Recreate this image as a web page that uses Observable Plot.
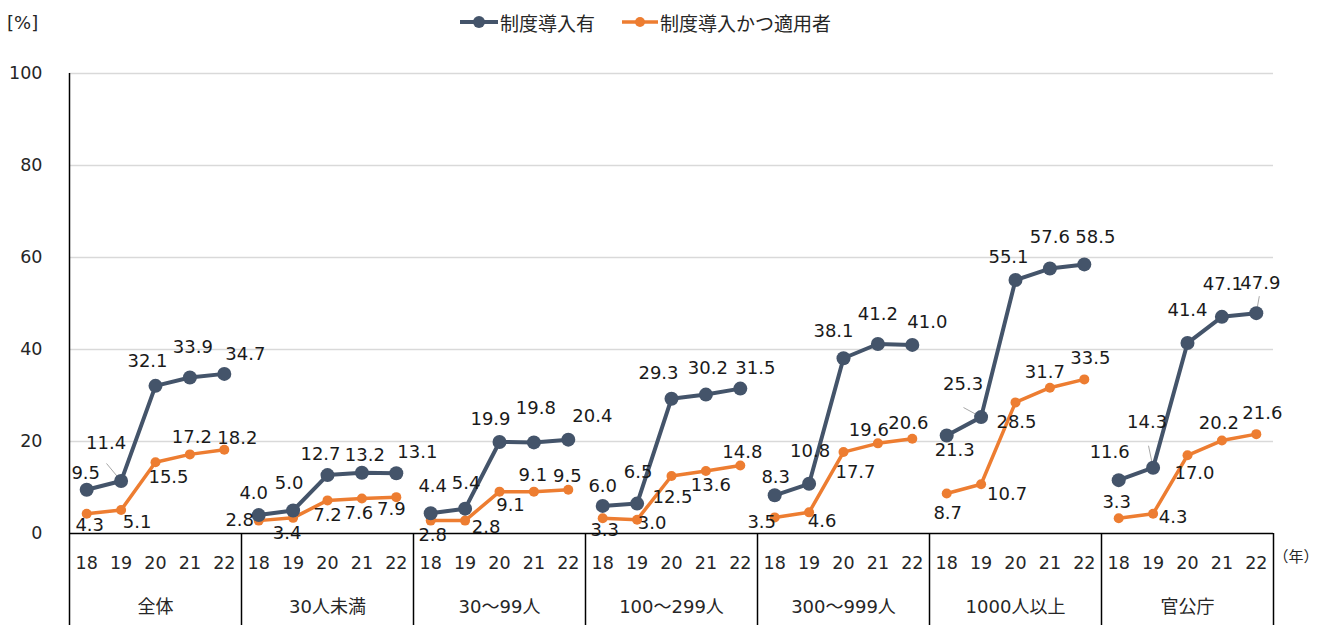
<!DOCTYPE html>
<html><head><meta charset="utf-8">
<script src="https://cdn.jsdelivr.net/npm/d3@7"></script>
<script src="https://cdn.jsdelivr.net/npm/@observablehq/plot@0.6"></script>
<style>
body{margin:0;background:#fff;}
#header{position:relative;width:1327px;height:45px;font-family:"DejaVu Sans","Noto Sans CJK JP",sans-serif;color:#262626;}
#unit{position:absolute;left:7px;top:12px;font-size:18px;line-height:22px;}
.leg{position:absolute;top:11px;height:22px;display:flex;align-items:center;gap:2px;font-size:19px;font-family:"Noto Sans CJK JP",sans-serif;}
.leg svg{display:block}
</style></head><body>
<div id="header">
  <div id="unit">[%]</div>
  <div class="leg" style="left:460px"><svg width="38" height="14"><line x1="0" y1="7" x2="38" y2="7" stroke="#44546A" stroke-width="4"/><circle cx="19" cy="7" r="6" fill="#44546A"/></svg><span>制度導入有</span></div>
  <div class="leg" style="left:622px"><svg width="36" height="14"><line x1="0" y1="7" x2="36" y2="7" stroke="#ED7D31" stroke-width="3.5"/><circle cx="18" cy="7" r="5" fill="#ED7D31"/></svg><span>制度導入かつ適用者</span></div>
</div>
<div id="chart"></div>
<script>
// ---- data ----
const groups = ["全体", "30人未満", "30～99人", "100～299人", "300～999人", "1000人以上", "官公庁"];
const years = ["18", "19", "20", "21", "22"];
const introduced = [
  [9.5, 11.4, 32.1, 33.9, 34.7],
  [4.0, 5.0, 12.7, 13.2, 13.1],
  [4.4, 5.4, 19.9, 19.8, 20.4],
  [6.0, 6.5, 29.3, 30.2, 31.5],
  [8.3, 10.8, 38.1, 41.2, 41.0],
  [21.3, 25.3, 55.1, 57.6, 58.5],
  [11.6, 14.3, 41.4, 47.1, 47.9]
];
const applied = [
  [4.3, 5.1, 15.5, 17.2, 18.2],
  [2.8, 3.4, 7.2, 7.6, 7.9],
  [2.8, 2.8, 9.1, 9.1, 9.5],
  [3.3, 3.0, 12.5, 13.6, 14.8],
  [3.5, 4.6, 17.7, 19.6, 20.6],
  [8.7, 10.7, 28.5, 31.7, 33.5],
  [3.3, 4.3, 17.0, 20.2, 21.6]
];
const yTicks = [0, 20, 40, 60, 80, 100];

// ---- layout (label placement offsets in px, leader lines) ----
const offIntroduced = [
  [[-1,-17],[-15,-38],[-8,-25],[3,-30],[21,-20]],
  [[-5,-22],[-4,-27],[-7,-21],[3,-18],[21,-21]],
  [[2,-27],[1,-25],[-9,-23],[2,-34],[24,-23]],
  [[0,-20],[1,-31],[-13,-25],[2,-26],[15,-20]],
  [[1,-18],[1,-33],[-10,-27],[0,-30],[15,-23]],
  [[8,15],[-18,-33],[-7,-23],[0,-31],[11,-27]],
  [[-9,-28],[-6,-45],[0,-33],[1,-33],[4,-30]]
];
const offApplied = [
  [[3,12],[16,12],[13,15],[2,-17],[13,-12]],
  [[-19,0],[-6,15],[0,15],[-3,15],[-5,12]],
  [[2,15],[21,7],[11,14],[-1,-16],[-1,-14]],
  [[2,12],[15,4],[1,21],[5,14],[2,-13]],
  [[-13,5],[13,9],[12,20],[-9,-13],[-4,-16]],
  [[1,20],[26,10],[1,20],[-5,-15],[6,-21]],
  [[-2,-16],[20,4],[7,18],[-3,-17],[6,-21]]
];
const leaders = [ // [group, yearIndex, px offset x, px offset y]
  [0, 1, -14.6, -17.6],
  [5, 1, -17.6, -9.6],
  [6, 1, -4.6, -22],
  [6, 4, 3, -17]
];

const W = 1327, H = 580, mL = 69, mR = 54, mT = 28, mB = 92;
const pxX = (W - mL - mR) / 35, pxY = (H - mT - mB) / 100;
const cA = "#44546A", cB = "#ED7D31";

const rowsA = [], rowsB = [];
groups.forEach((g, gi) => years.forEach((yr, yi) => {
  const idx = gi * 5 + yi;
  rowsA.push({g: gi, idx, v: introduced[gi][yi], o: offIntroduced[gi][yi]});
  rowsB.push({g: gi, idx, v: applied[gi][yi], o: offApplied[gi][yi]});
}));
const leaderRows = leaders.map(([gi, yi, ox, oy]) => ({
  x1: gi * 5 + yi, y1: introduced[gi][yi], x2: gi * 5 + yi + ox / pxX, y2: introduced[gi][yi] - oy / pxY
}));
const labelRows = rowsA.concat(rowsB);
const yBottom = -mB / pxY;

const chart = Plot.plot({
  width: W, height: H,
  marginLeft: mL, marginRight: mR, marginTop: mT, marginBottom: mB,
  style: {fontFamily: "'DejaVu Sans','Noto Sans CJK JP',sans-serif", color: "#262626", background: "#fff", overflow: "visible"},
  x: {type: "linear", domain: [-0.5, 34.5]},
  y: {domain: [0, 100]},
  marks: [
    Plot.ruleY(yTicks.filter(t => t > 0), {stroke: "#d9d9d9", strokeWidth: 1.5}),
    Plot.ruleY([0], {stroke: "#000", strokeWidth: 1.5}),
    Plot.ruleX([-0.5], {y1: () => 100, y2: () => yBottom, stroke: "#000", strokeWidth: 1.5}),
    Plot.ruleX(d3.range(1, 8).map(g => g * 5 - 0.5), {y1: () => 0, y2: () => yBottom, stroke: "#000", strokeWidth: 1.5}),
    Plot.axisY(yTicks, {tickSize: 0, tickPadding: 27, fontSize: 17.5, label: null}),
    Plot.axisX(d3.range(35), {tickSize: 0, tickPadding: 23, fontSize: 17.5, tickFormat: i => years[i % 5], label: null}),
    Plot.text(groups, {x: (d, i) => i * 5 + 2, text: d => d, frameAnchor: "bottom", dy: 79, fontSize: 18}),
    Plot.text(["（年）"], {text: d => d, frameAnchor: "bottom-right", dx: 0, dy: 28, textAnchor: "start", fontSize: 15}),
    Plot.link(leaderRows, {x1: "x1", y1: "y1", x2: "x2", y2: "y2", stroke: "#a6a6a6", strokeWidth: 1}),
    Plot.line(rowsB, {x: "idx", y: "v", z: "g", stroke: cB, strokeWidth: 3.5}),
    Plot.dot(rowsB, {x: "idx", y: "v", r: 5, fill: cB}),
    Plot.line(rowsA, {x: "idx", y: "v", z: "g", stroke: cA, strokeWidth: 4}),
    Plot.dot(rowsA, {x: "idx", y: "v", r: 7, fill: cA}),
    Plot.text(labelRows, {
      x: d => d.idx + d.o[0] / pxX,
      y: d => d.v - d.o[1] / pxY,
      text: d => d.v.toFixed(1),
      fontSize: 18, fill: "#1a1a1a", lineAnchor: "middle"
    })
  ]
});
document.getElementById("chart").appendChild(chart);
</script>
</body></html>
